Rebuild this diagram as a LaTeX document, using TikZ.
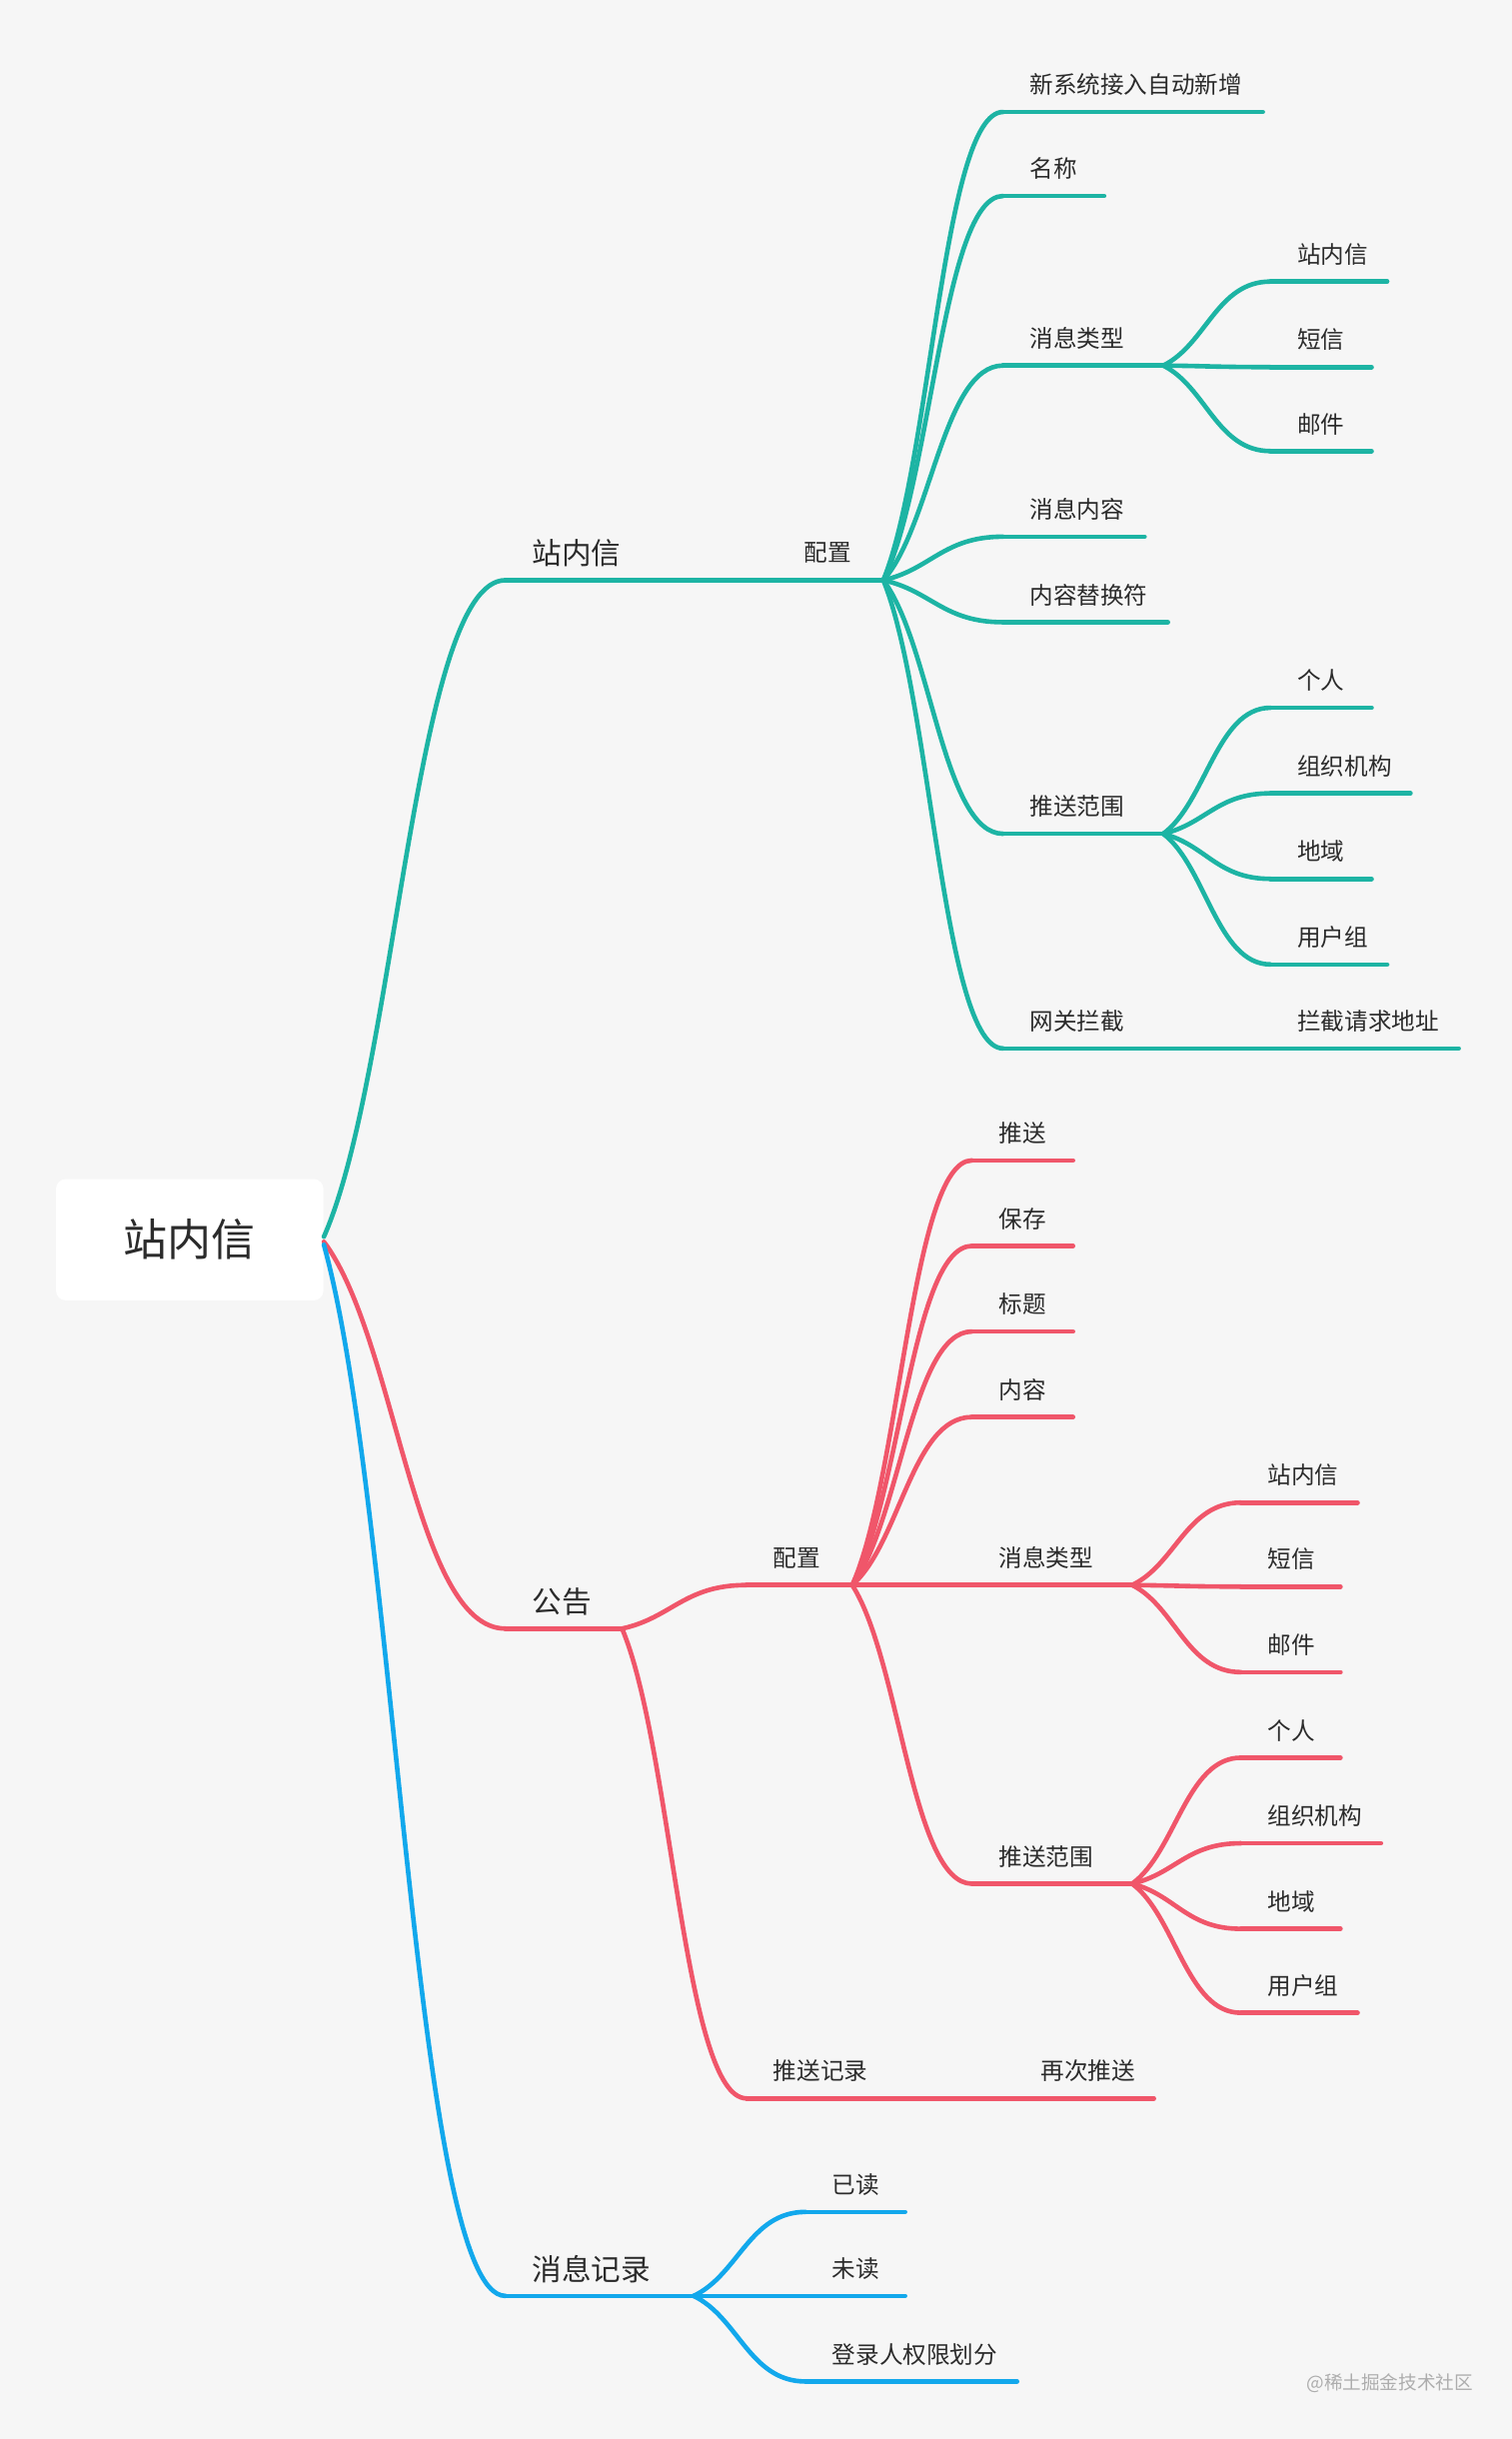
\documentclass[tikz,border=0pt]{standalone}
\usepackage{fontspec}
\newfontfamily\cjk{Noto Sans CJK SC}
\usetikzlibrary{calc}
\definecolor{bgc}{HTML}{F6F6F6}
\definecolor{cg}{HTML}{1DB4A4}
\definecolor{cr}{HTML}{F0566A}
\definecolor{cb}{HTML}{12A8EC}
\definecolor{txt}{HTML}{2B2B2B}
\definecolor{wm}{HTML}{ADADAD}
\tikzset{
  gl/.style={draw=cg, line width=2.3pt, line cap=round},
  rl/.style={draw=cr, line width=2.3pt, line cap=round},
  bl/.style={draw=cb, line width=2.3pt, line cap=round},
  smalltext/.style={font=\cjk\fontsize{11.8}{14}\selectfont, text=txt, inner sep=0pt},
  bigtext/.style={font=\cjk\fontsize{14.8}{18}\selectfont, text=txt, inner sep=0pt},
  rootbox/.style={fill=white, rounded corners=5pt, minimum width=133.8pt, minimum height=60.7pt,
    font=\cjk\fontsize{22}{26}\selectfont, text=txt, inner sep=0pt},
}
% #1 name, #2 line style, #3 x start, #4 x end, #5 y, #6 text style, #7 text
\newcommand\mmtopic[7]{%
  \coordinate (#1-s) at (#3,#5);
  \coordinate (#1-e) at (#4,#5);
  \draw[#2] (#1-s) -- (#1-e);
  \node[#6, anchor=west] (#1) at (#3+17,#5-17.5) {#7};
}
% #1 style, #2 from, #3 to
\newcommand\mmlink[3]{%
  \draw[#1] let \p1=(#2), \p2=(#3) in (#2) .. controls ({\x1+0.4*(\x2-\x1)},{\y1+0.25*(\y2-\y1)}) and ({\x1+0.5*(\x2-\x1)},{\y2}) .. (#3);
}
\begin{document}
\begin{tikzpicture}[x=0.7778pt,y=-0.7778pt]
\fill[bgc] (0,0) rectangle (972,1568);
\useasboundingbox (0,0) rectangle (972,1568);

\node[rootbox] (root) at (122,797) {站内信};
\coordinate (rg) at ([yshift=1.5pt]root.east);
\coordinate (rr) at ([yshift=-1pt]root.east);
\coordinate (rb) at ([yshift=-2.5pt]root.east);

% ---------- green ----------
\mmtopic{g1}{gl}{325}{418}{373}{bigtext}{站内信}
\mmlink{gl}{rg}{g1-s}
\mmtopic{g2}{gl}{500}{568}{373}{smalltext}{配置}
\mmlink{gl}{g1-e}{g2-s}

\mmtopic{g21}{gl}{645}{812}{72}{smalltext}{新系统接入自动新增}
\mmtopic{g22}{gl}{645}{710}{126}{smalltext}{名称}
\mmtopic{g23}{gl}{645}{748}{235}{smalltext}{消息类型}
\mmtopic{g24}{gl}{645}{736}{345}{smalltext}{消息内容}
\mmtopic{g25}{gl}{645}{751}{400}{smalltext}{内容替换符}
\mmtopic{g26}{gl}{645}{748}{536}{smalltext}{推送范围}
\mmtopic{g27}{gl}{645}{748}{674}{smalltext}{网关拦截}
\foreach \c in {g21,g22,g23,g24,g25,g26,g27} {\mmlink{gl}{g2-e}{\c-s}}

\mmtopic{g231}{gl}{817}{892}{181}{smalltext}{站内信}
\mmtopic{g232}{gl}{817}{882}{236}{smalltext}{短信}
\mmtopic{g233}{gl}{817}{882}{290}{smalltext}{邮件}
\foreach \c in {g231,g232,g233} {\mmlink{gl}{g23-e}{\c-s}}

\mmtopic{g261}{gl}{817}{882}{455}{smalltext}{个人}
\mmtopic{g262}{gl}{817}{907}{510}{smalltext}{组织机构}
\mmtopic{g263}{gl}{817}{882}{565}{smalltext}{地域}
\mmtopic{g264}{gl}{817}{892}{620}{smalltext}{用户组}
\foreach \c in {g261,g262,g263,g264} {\mmlink{gl}{g26-e}{\c-s}}

\mmtopic{g271}{gl}{817}{938}{674}{smalltext}{拦截请求地址}
\mmlink{gl}{g27-e}{g271-s}

% ---------- red ----------
\mmtopic{r1}{rl}{325}{400}{1047}{bigtext}{公告}
\mmlink{rl}{rr}{r1-s}
\mmtopic{r2}{rl}{480}{548}{1019}{smalltext}{配置}
\mmlink{rl}{r1-e}{r2-s}

\mmtopic{r21}{rl}{625}{690}{746}{smalltext}{推送}
\mmtopic{r22}{rl}{625}{690}{801}{smalltext}{保存}
\mmtopic{r23}{rl}{625}{690}{856}{smalltext}{标题}
\mmtopic{r24}{rl}{625}{690}{911}{smalltext}{内容}
\mmtopic{r25}{rl}{625}{728}{1019}{smalltext}{消息类型}
\mmtopic{r26}{rl}{625}{728}{1211}{smalltext}{推送范围}
\foreach \c in {r21,r22,r23,r24,r25,r26} {\mmlink{rl}{r2-e}{\c-s}}

\mmtopic{r251}{rl}{798}{873}{966}{smalltext}{站内信}
\mmtopic{r252}{rl}{798}{862}{1020}{smalltext}{短信}
\mmtopic{r253}{rl}{798}{862}{1075}{smalltext}{邮件}
\foreach \c in {r251,r252,r253} {\mmlink{rl}{r25-e}{\c-s}}

\mmtopic{r261}{rl}{798}{862}{1130}{smalltext}{个人}
\mmtopic{r262}{rl}{798}{888}{1185}{smalltext}{组织机构}
\mmtopic{r263}{rl}{798}{862}{1240}{smalltext}{地域}
\mmtopic{r264}{rl}{798}{873}{1294}{smalltext}{用户组}
\foreach \c in {r261,r262,r263,r264} {\mmlink{rl}{r26-e}{\c-s}}

\mmtopic{r3}{rl}{480}{620}{1349}{smalltext}{推送记录}
\mmlink{rl}{r1-e}{r3-s}
\mmtopic{r31}{rl}{652}{742}{1349}{smalltext}{再次推送}
\mmlink{rl}{r3-e}{r31-s}

% ---------- blue ----------
\mmtopic{b1}{bl}{325}{446}{1476}{bigtext}{消息记录}
\mmlink{bl}{rb}{b1-s}
\mmtopic{b11}{bl}{518}{582}{1422}{smalltext}{已读}
\mmtopic{b12}{bl}{518}{582}{1476}{smalltext}{未读}
\mmtopic{b13}{bl}{518}{654}{1531}{smalltext}{登录人权限划分}
\foreach \c in {b11,b12,b13} {\mmlink{bl}{b1-e}{\c-s}}

% watermark
\node[font=\cjk\fontsize{9.3}{11}\selectfont, text=wm, inner sep=0pt, anchor=west] (wmark) at (840,1532) {@稀土掘金技术社区};
\end{tikzpicture}
\end{document}
